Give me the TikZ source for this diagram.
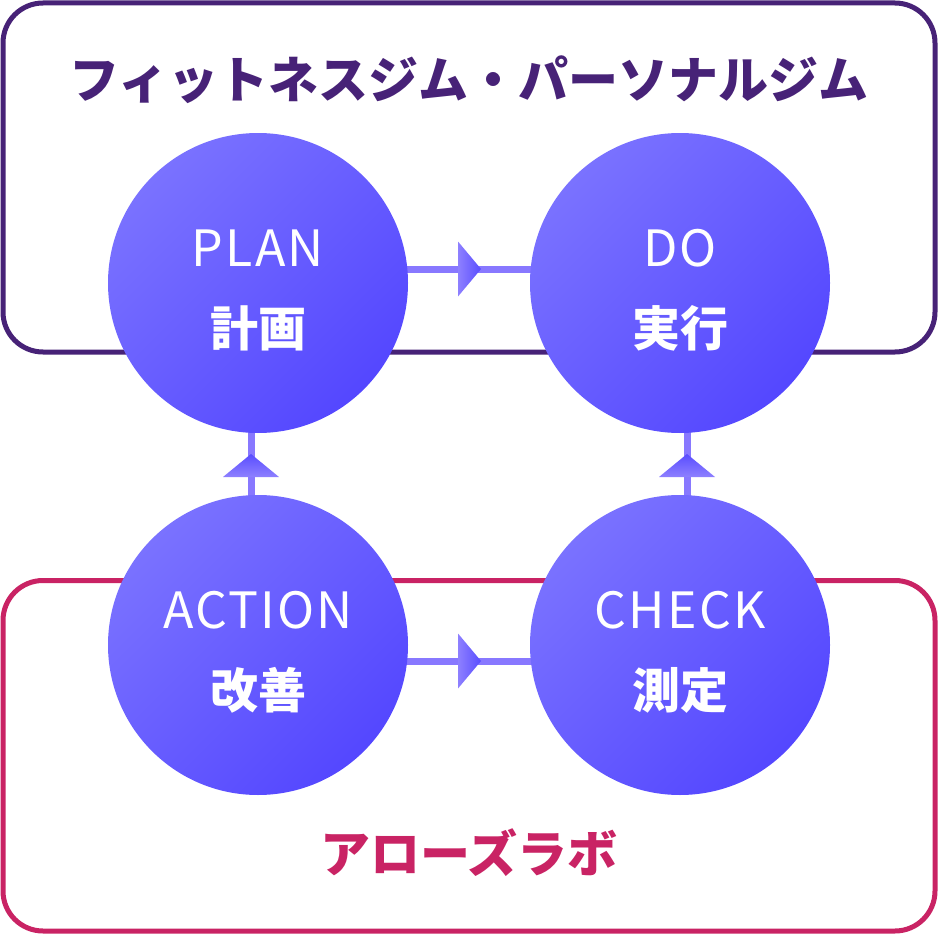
\documentclass[tikz,border=0pt]{standalone}
\usepackage{fontspec}
\newfontfamily\jpfont{Noto Sans CJK JP}
\usetikzlibrary{calc,backgrounds}
\definecolor{framepurple}{HTML}{472277}
\definecolor{framepink}{HTML}{C92364}
\definecolor{ballhi}{HTML}{7A72FF}
\definecolor{balllo}{HTML}{5447FF}
\definecolor{linkcol}{HTML}{8878FF}
\definecolor{tiphi}{HTML}{8E80FF}
\definecolor{tiplo}{HTML}{594DFF}

\tikzset{
  frame/.style={line width=5pt, rounded corners=40pt},
  phase/.style={circle, minimum size=300pt, inner sep=0pt,
    top color=ballhi, bottom color=balllo, shading angle=45},
  entext/.style={anchor=base, text=white, font=\jpfont\addfontfeature{LetterSpace=4.5}\fontsize{50}{60}\selectfont},
  jptext/.style={anchor=base, text=white, font=\jpfont\bfseries\fontsize{48}{58}\selectfont},
  heading/.style={font=\jpfont\bfseries\fontsize{50}{60}\selectfont},
  link/.style={draw=linkcol, line width=7pt},
  tipright/.pic={\shade[left color=tiphi, right color=tiplo] (-11,-27.5) -- (12,0) -- (-11,27.5) -- cycle;},
  tipup/.pic={\shade[bottom color=tiphi, top color=tiplo] (-28,13) -- (0,-10) -- (28,13) -- cycle;},
}

\begin{document}
\begin{tikzpicture}[x=1pt,y=-1pt]
  \useasboundingbox (0,0) rectangle (938,934);
  % frames
  \draw[frame, framepurple] (3,3) rectangle (935,352);
  \draw[frame, framepink] (3,580.5) rectangle (935,931);
  \node[heading, text=framepurple] (gym) at (469,80) {フィットネスジム・パーソナルジム};
  \node[heading, text=framepink] (labo) at (469,853) {アローズラボ};
  % phases
  \node[phase] (plan) at (258,283) {};
  \node[phase] (do) at (680,283) {};
  \node[phase] (action) at (258,645) {};
  \node[phase] (check) at (680,645) {};
  \node[entext] (plan-en) at ($(plan)+(0,-17)$) {PLAN};
  \node[jptext] (plan-jp) at ($(plan)+(0,63)$) {計画};
  \node[entext] (do-en) at ($(do)+(0,-17)$) {DO};
  \node[jptext] (do-jp) at ($(do)+(0,63)$) {実行};
  \node[entext] (action-en) at ($(action)+(0,-17)$) {ACTION};
  \node[jptext] (action-jp) at ($(action)+(0,63)$) {改善};
  \node[entext] (check-en) at ($(check)+(0,-17)$) {CHECK};
  \node[jptext] (check-jp) at ($(check)+(0,63)$) {測定};
  % connectors
  \begin{scope}[on background layer]
    \draw[link] ($(plan)+(0,-14)$) -- ($(do)+(0,-14)$);
    \draw[link] ($(action)+(0,16)$) -- ($(check)+(0,16)$);
    \draw[link] ($(action)+(-7,0)$) -- ($(plan)+(-7,0)$);
    \draw[link] ($(check)+(7,0)$) -- ($(do)+(7,0)$);
  \end{scope}
  \pic at ($(plan)!0.5!(do)+(0,-14)$) {tipright};
  \pic at ($(action)!0.5!(check)+(0,16)$) {tipright};
  \pic at ($(plan)!0.5!(action)+(-7,0)$) {tipup};
  \pic at ($(do)!0.5!(check)+(7,0)$) {tipup};
\end{tikzpicture}
\end{document}
